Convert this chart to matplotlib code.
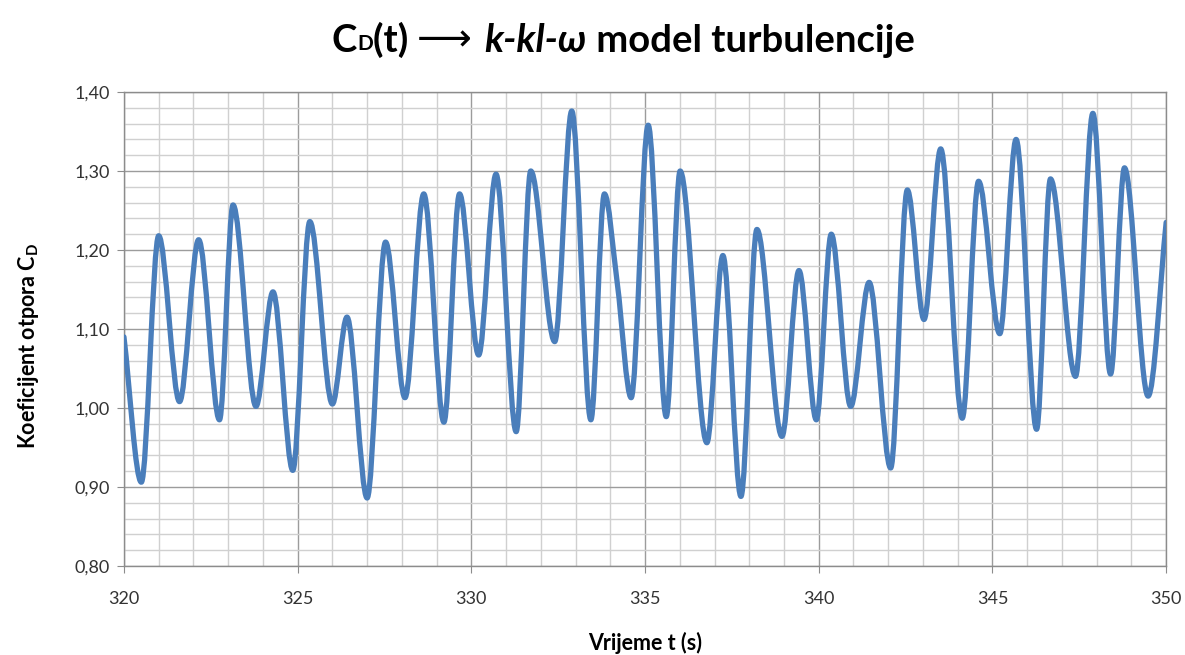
import numpy as np
import matplotlib.pyplot as plt
from matplotlib.path import Path
from matplotlib.patches import PathPatch
from matplotlib.ticker import MultipleLocator, FuncFormatter

plt.rcParams['font.family'] = ['Lato', 'DejaVu Sans']
plt.rcParams['mathtext.fontset'] = 'custom'
plt.rcParams['mathtext.rm'] = 'Lato:bold'

# turning points of C_D(t) (time in s, drag coefficient)
t_pts = [320.00, 320.50, 321.00, 321.60, 322.15, 322.75, 323.14, 323.80, 324.29, 324.86,
         325.35, 326.00, 326.42, 327.00, 327.53, 328.09, 328.63, 329.21, 329.66, 330.21,
         330.71, 331.29, 331.71, 332.40, 332.89, 333.44, 333.83, 334.20, 334.60, 335.09,
         335.61, 336.01, 336.78, 337.24, 337.76, 338.22, 338.94, 339.43, 339.93, 340.36,
         340.92, 341.45, 342.07, 342.55, 343.03, 343.51, 344.13, 344.60, 345.21, 345.68,
         346.27, 346.67, 347.39, 347.89, 348.40, 348.80, 349.48, 350.00]
cd_pts = [1.090, 0.906, 1.218, 1.008, 1.213, 0.985, 1.257, 1.002, 1.147, 0.921,
          1.236, 1.005, 1.115, 0.886, 1.210, 1.013, 1.271, 0.982, 1.271, 1.067,
          1.296, 0.970, 1.300, 1.084, 1.376, 0.985, 1.271, 1.158, 1.013, 1.358,
          0.989, 1.300, 0.956, 1.193, 0.888, 1.226, 0.964, 1.174, 0.985, 1.220,
          1.002, 1.159, 0.924, 1.276, 1.112, 1.328, 0.987, 1.287, 1.094, 1.340,
          0.973, 1.290, 1.040, 1.373, 1.043, 1.304, 1.015, 1.235]

y_ticks = [0.80, 0.90, 1.00, 1.10, 1.20, 1.30, 1.40]
x_ticks = [320, 325, 330, 335, 340, 345, 350]

line_col = '#4a7ebb'


def smooth_path(x, y):
    # monotone cubic (PCHIP style) tangents, drawn as bezier segments like excel's smoothed line
    x = np.asarray(x); y = np.asarray(y)
    h = np.diff(x)
    d = np.diff(y) / h
    m = np.zeros_like(y)
    m[0], m[-1] = d[0], d[-1]
    for k in range(1, len(y) - 1):
        if d[k - 1] * d[k] > 0:
            w1 = 2 * h[k] + h[k - 1]
            w2 = h[k] + 2 * h[k - 1]
            m[k] = (w1 + w2) / (w1 / d[k - 1] + w2 / d[k])
    verts = [(x[0], y[0])]
    codes = [Path.MOVETO]
    for k in range(len(h)):
        verts += [(x[k] + h[k] / 3, y[k] + m[k] * h[k] / 3),
                  (x[k + 1] - h[k] / 3, y[k + 1] - m[k + 1] * h[k] / 3),
                  (x[k + 1], y[k + 1])]
        codes += [Path.CURVE4] * 3
    return Path(verts, codes)


fig = plt.figure(figsize=(11.85, 6.55), dpi=100)
ax = fig.add_axes([0.1046, 0.136, 0.8795, 0.7235])

ax.add_patch(PathPatch(smooth_path(t_pts, cd_pts), facecolor='none', edgecolor=line_col,
                       lw=3.8, capstyle='round', joinstyle='round', zorder=3))

ax.set_xlim(320, 350)
ax.set_ylim(0.80, 1.40)
ax.set_xticks(x_ticks)
ax.set_yticks(y_ticks)
ax.xaxis.set_minor_locator(MultipleLocator(1))
ax.yaxis.set_minor_locator(MultipleLocator(0.02))
ax.yaxis.set_major_formatter(FuncFormatter(lambda v, p: f'{v:.2f}'.replace('.', ',')))

ax.grid(which='minor', color='#d0d0d0', lw=1.0, zorder=0)
ax.grid(which='major', color='#9c9c9c', lw=1.0, zorder=1)
ax.set_axisbelow(True)
for s in ax.spines.values():
    s.set_color('#8c8c8c')
    s.set_linewidth(1.0)
ax.tick_params(which='major', length=5, color='#8c8c8c', labelsize=13, labelcolor='#333333')
ax.tick_params(axis='x', pad=13)
ax.tick_params(axis='y', pad=5)
ax.tick_params(which='minor', length=0)

ax.set_xlabel('Vrijeme t (s)', fontsize=15.5, fontweight='bold')
ax.set_ylabel('Koeficijent otpora C$_\\mathrm{D}$', fontsize=15.5, fontweight='bold')
ax.yaxis.set_label_coords(-0.08, 0.464)
ax.xaxis.set_label_coords(0.5, -0.14)

# title built from pieces (subscript, arrow, bold italic model name)
def nxt(prev, s, dy=0, **kw):
    return ax.annotate(s, xy=(1, 0), xycoords=prev, xytext=(0, dy), textcoords='offset points',
                       ha='left', va='bottom', annotation_clip=False, **kw)

tsize = 27.5
first = fig.text(0.28, 0.912, 'C', fontsize=tsize, fontweight='bold', va='bottom')
p = nxt(first, 'D', dy=2.5, fontsize=15, fontweight='bold')
p = nxt(p, '(t) ', dy=-2.5, fontsize=tsize, fontweight='bold')
p = nxt(p, '\u27f6 ', fontsize=tsize, family=['DejaVu Sans'])
p = nxt(p, 'k-kl-\u03c9', fontsize=tsize, fontweight='bold', style='italic')
last = nxt(p, ' model turbulencije', fontsize=tsize, fontweight='bold')

fig.canvas.draw()
r = fig.canvas.get_renderer()
x0 = first.get_window_extent(r).x0
x1 = last.get_window_extent(r).x1
shift = (623 - (x0 + x1) / 2) / fig.bbox.width
first.set_x(first.get_position()[0] + shift)

fig.savefig('out.png', dpi=100, facecolor='white')
